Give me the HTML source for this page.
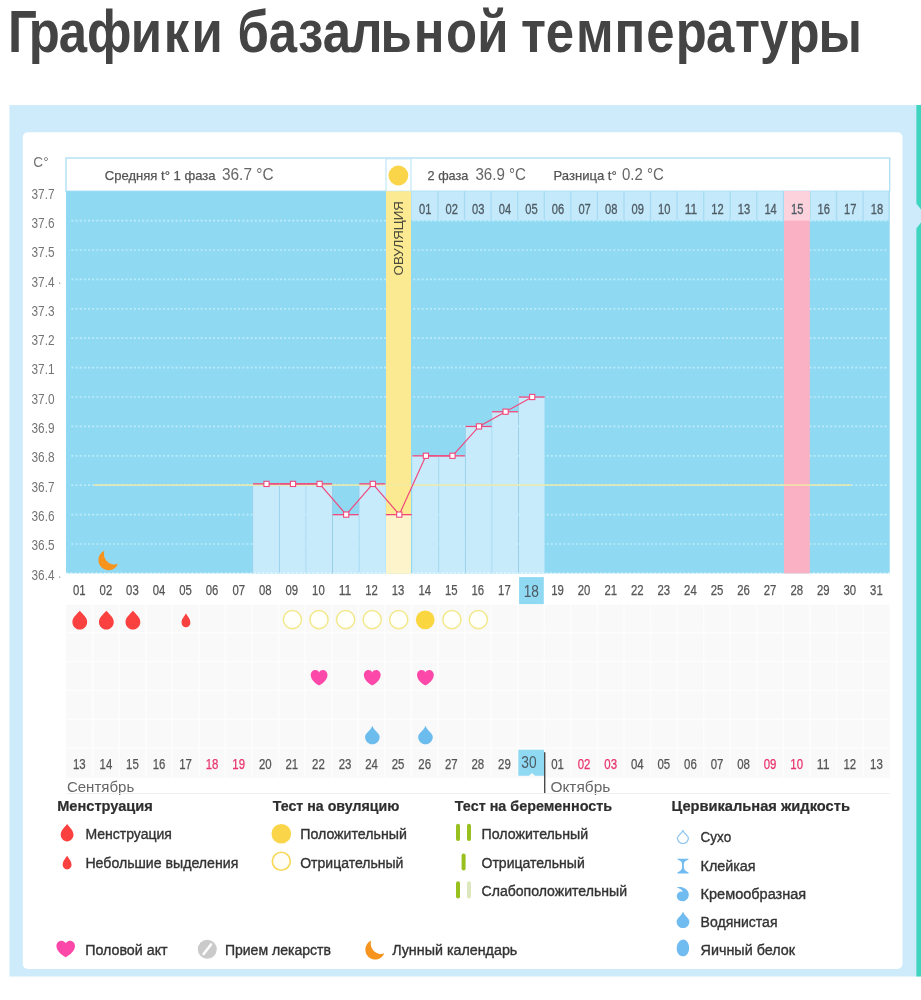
<!DOCTYPE html>
<html lang="ru">
<head>
<meta charset="utf-8">
<title>Графики базальной температуры</title>
<style>
html, body { margin: 0; padding: 0; background: #fff; }
body { width: 921px; height: 1000px; position: relative; overflow: hidden; font-family: 'Liberation Sans', 'DejaVu Sans', sans-serif; }
h1 { position: absolute; left: 0; top: 0; margin: 0; width: 921px; height: 100px; font-size: 59px; line-height: 64px; font-weight: bold; color: #444; }
h1 svg { display: block; }
svg { position: absolute; left: 0; top: 0; will-change: transform; }
svg text { font-family: 'Liberation Sans', 'DejaVu Sans', sans-serif; }
</style>
</head>
<body>
<h1><svg width="921" height="100" viewBox="0 0 921 100"><text transform="scale(0.862 1)" y="51.5" font-size="59" font-weight="bold" fill="#444" x="9.32 33.28 68.10 101.06 151.64 190.02 222.12 258.39 275.67 311.66 345.60 374.36 406.45 441.47 479.98 517.54 553.67 589.94 604.45 633.04 668.08 712.98 749.63 783.91 819.03 852.77 881.61 914.83 949.40">Графики базальной температуры</text></svg></h1>
<svg width="921" height="1000" viewBox="0 0 921 1000">
<rect x="9.4" y="105.1" width="911.6" height="871.4" fill="#cdebfa"/>
<path d="M916.4 105.1H921V209.5L916.4 203.5Z M916.4 228.5L921 222.5V976.5H916.4Z" fill="#3ed4be"/>
<rect x="22.8" y="132.3" width="879.7" height="836.7" rx="5" fill="#fff"/>
<rect x="66.0" y="158.0" width="823.7" height="33.2" fill="#fff" stroke="#b2e0f5" stroke-width="1.4"/>
<rect x="66.0" y="191.2" width="823.7" height="382.2" fill="#90d9f3"/>
<rect x="411.4" y="191.2" width="478.3" height="29.4" fill="#c3e9fa"/>
<rect x="437.4" y="191.2" width="1.2" height="29.4" fill="#a6daf3"/>
<rect x="463.9" y="191.2" width="1.2" height="29.4" fill="#a6daf3"/>
<rect x="490.5" y="191.2" width="1.2" height="29.4" fill="#a6daf3"/>
<rect x="517.1" y="191.2" width="1.2" height="29.4" fill="#a6daf3"/>
<rect x="543.7" y="191.2" width="1.2" height="29.4" fill="#a6daf3"/>
<rect x="570.2" y="191.2" width="1.2" height="29.4" fill="#a6daf3"/>
<rect x="596.8" y="191.2" width="1.2" height="29.4" fill="#a6daf3"/>
<rect x="623.4" y="191.2" width="1.2" height="29.4" fill="#a6daf3"/>
<rect x="649.9" y="191.2" width="1.2" height="29.4" fill="#a6daf3"/>
<rect x="676.5" y="191.2" width="1.2" height="29.4" fill="#a6daf3"/>
<rect x="703.1" y="191.2" width="1.2" height="29.4" fill="#a6daf3"/>
<rect x="729.6" y="191.2" width="1.2" height="29.4" fill="#a6daf3"/>
<rect x="756.2" y="191.2" width="1.2" height="29.4" fill="#a6daf3"/>
<rect x="782.8" y="191.2" width="1.2" height="29.4" fill="#a6daf3"/>
<rect x="809.4" y="191.2" width="1.2" height="29.4" fill="#a6daf3"/>
<rect x="835.9" y="191.2" width="1.2" height="29.4" fill="#a6daf3"/>
<rect x="862.5" y="191.2" width="1.2" height="29.4" fill="#a6daf3"/>
<rect x="888.5" y="191.2" width="1.2" height="29.4" fill="#a6daf3"/>
<rect x="252.8" y="485.2" width="26.6" height="88.2" fill="#c8ebfc"/>
<rect x="279.4" y="485.2" width="26.6" height="88.2" fill="#c8ebfc"/>
<rect x="305.9" y="485.2" width="26.6" height="88.2" fill="#c8ebfc"/>
<rect x="332.5" y="514.6" width="26.6" height="58.8" fill="#c8ebfc"/>
<rect x="359.1" y="485.2" width="26.6" height="88.2" fill="#c8ebfc"/>
<rect x="412.2" y="455.8" width="26.6" height="117.6" fill="#c8ebfc"/>
<rect x="438.8" y="455.8" width="26.6" height="117.6" fill="#c8ebfc"/>
<rect x="465.4" y="426.4" width="26.6" height="147.0" fill="#c8ebfc"/>
<rect x="491.9" y="411.7" width="26.6" height="161.7" fill="#c8ebfc"/>
<rect x="518.5" y="397.0" width="25.6" height="176.4" fill="#c8ebfc"/>
<rect x="252.3" y="485.2" width="1" height="88.2" fill="#98d0ec"/>
<rect x="278.9" y="485.2" width="1" height="88.2" fill="#98d0ec"/>
<rect x="305.4" y="485.2" width="1" height="88.2" fill="#98d0ec"/>
<rect x="332.0" y="485.2" width="1" height="88.2" fill="#98d0ec"/>
<rect x="358.6" y="485.2" width="1" height="88.2" fill="#98d0ec"/>
<rect x="438.3" y="455.8" width="1" height="117.6" fill="#98d0ec"/>
<rect x="464.9" y="426.4" width="1" height="147.0" fill="#98d0ec"/>
<rect x="491.4" y="411.7" width="1" height="161.7" fill="#98d0ec"/>
<rect x="518.0" y="397.0" width="1" height="176.4" fill="#98d0ec"/>
<g stroke="#bcedfb" stroke-width="1.7" stroke-dasharray="1.9 2.27">
<line x1="71.4" x2="887.2" y1="220.6" y2="220.6"/>
<line x1="71.4" x2="887.2" y1="250.0" y2="250.0"/>
<line x1="71.4" x2="887.2" y1="279.4" y2="279.4"/>
<line x1="71.4" x2="887.2" y1="308.8" y2="308.8"/>
<line x1="71.4" x2="887.2" y1="338.2" y2="338.2"/>
<line x1="71.4" x2="887.2" y1="367.6" y2="367.6"/>
<line x1="71.4" x2="887.2" y1="397.0" y2="397.0"/>
<line x1="71.4" x2="887.2" y1="426.4" y2="426.4"/>
<line x1="71.4" x2="887.2" y1="455.8" y2="455.8"/>
<line x1="71.4" x2="887.2" y1="485.2" y2="485.2"/>
<line x1="71.4" x2="887.2" y1="514.6" y2="514.6"/>
<line x1="71.4" x2="887.2" y1="544.0" y2="544.0"/>
</g>
<rect x="253.3" y="485.2" width="25.6" height="88.2" fill="#c8ebfc" opacity="0.75"/>
<rect x="279.9" y="485.2" width="25.6" height="88.2" fill="#c8ebfc" opacity="0.75"/>
<rect x="306.4" y="485.2" width="25.6" height="88.2" fill="#c8ebfc" opacity="0.75"/>
<rect x="333.0" y="514.6" width="25.6" height="58.8" fill="#c8ebfc" opacity="0.75"/>
<rect x="359.6" y="485.2" width="25.6" height="88.2" fill="#c8ebfc" opacity="0.75"/>
<rect x="412.7" y="455.8" width="25.6" height="117.6" fill="#c8ebfc" opacity="0.75"/>
<rect x="439.3" y="455.8" width="25.6" height="117.6" fill="#c8ebfc" opacity="0.75"/>
<rect x="465.9" y="426.4" width="25.6" height="147.0" fill="#c8ebfc" opacity="0.75"/>
<rect x="492.4" y="411.7" width="25.6" height="161.7" fill="#c8ebfc" opacity="0.75"/>
<rect x="519.0" y="397.0" width="25.6" height="176.4" fill="#c8ebfc" opacity="0.75"/>
<line x1="66.5" x2="889.7" y1="573.0" y2="573.0" stroke="#fff" stroke-width="1" stroke-dasharray="1.6 2.57" opacity="0.8"/>
<rect x="784.0" y="191.2" width="25.8" height="382.2" fill="#fab1c4"/>
<rect x="784.0" y="191.2" width="25.8" height="29.4" fill="#fcd3dc"/>
<rect x="386.0" y="158.8" width="25.0" height="32.4" fill="#fff" stroke="#c2e6f7" stroke-width="1.2"/>
<rect x="386.0" y="191.2" width="25.0" height="382.2" fill="#fcea93"/>
<rect x="386.0" y="514.6" width="25.0" height="58.8" fill="#fdf4cc"/>
<circle cx="398.4" cy="175.5" r="9.9" fill="#fad54a"/>
<text transform="translate(403.2 275.5) rotate(-90)" font-size="13.5" fill="#4a4a3a" textLength="74.5" lengthAdjust="spacingAndGlyphs">ОВУЛЯЦИЯ</text>
<rect x="93.7" y="484.4" width="757.3" height="1.4" fill="#f1eaa3"/>
<rect x="253.0" y="483.2" width="26.0" height="1.3" fill="#f0487c"/>
<rect x="279.6" y="483.2" width="26.0" height="1.3" fill="#f0487c"/>
<rect x="306.1" y="483.2" width="26.0" height="1.3" fill="#f0487c"/>
<rect x="332.7" y="514.0" width="26.0" height="1.3" fill="#f0487c"/>
<rect x="359.3" y="483.2" width="26.0" height="1.3" fill="#f0487c"/>
<rect x="385.8" y="514.0" width="26.0" height="1.3" fill="#f0487c"/>
<rect x="412.4" y="455.2" width="26.0" height="1.3" fill="#f0487c"/>
<rect x="439.0" y="455.2" width="26.0" height="1.3" fill="#f0487c"/>
<rect x="465.6" y="425.8" width="26.0" height="1.3" fill="#f0487c"/>
<rect x="492.1" y="411.1" width="26.0" height="1.3" fill="#f0487c"/>
<rect x="518.7" y="396.4" width="26.0" height="1.3" fill="#f0487c"/>
<polyline fill="none" stroke="#f0487c" stroke-width="1.2" points="266.5,483.9 293.0,483.9 319.6,483.9 346.2,514.6 372.8,483.9 399.3,514.6 425.9,455.8 452.5,455.8 479.0,426.4 505.6,411.7 532.2,397.0"/>
<rect x="263.9" y="481.3" width="5.2" height="5.2" fill="#fff" stroke="#f0487c" stroke-width="1.1"/>
<rect x="290.4" y="481.3" width="5.2" height="5.2" fill="#fff" stroke="#f0487c" stroke-width="1.1"/>
<rect x="317.0" y="481.3" width="5.2" height="5.2" fill="#fff" stroke="#f0487c" stroke-width="1.1"/>
<rect x="343.6" y="512.0" width="5.2" height="5.2" fill="#fff" stroke="#f0487c" stroke-width="1.1"/>
<rect x="370.2" y="481.3" width="5.2" height="5.2" fill="#fff" stroke="#f0487c" stroke-width="1.1"/>
<rect x="396.7" y="512.0" width="5.2" height="5.2" fill="#fff" stroke="#f0487c" stroke-width="1.1"/>
<rect x="423.3" y="453.2" width="5.2" height="5.2" fill="#fff" stroke="#f0487c" stroke-width="1.1"/>
<rect x="449.9" y="453.2" width="5.2" height="5.2" fill="#fff" stroke="#f0487c" stroke-width="1.1"/>
<rect x="476.4" y="423.8" width="5.2" height="5.2" fill="#fff" stroke="#f0487c" stroke-width="1.1"/>
<rect x="503.0" y="409.1" width="5.2" height="5.2" fill="#fff" stroke="#f0487c" stroke-width="1.1"/>
<rect x="529.6" y="394.4" width="5.2" height="5.2" fill="#fff" stroke="#f0487c" stroke-width="1.1"/>
<path transform="translate(97.8 550.4) scale(1.010)" fill="#f7941d" d="M6.5 0.3C4.8 6 8.2 12.2 14 13.6c2 .5 4 .3 5.8-.4C18.6 17 15 19.6 10.8 19.6 5.2 19.6.6 15.2.6 9.8.6 5.6 3 1.9 6.5.3z"/>
<text x="33.3" y="167.3" font-size="15.5" fill="#747474" text-anchor="start" font-weight="normal" textLength="15.3" lengthAdjust="spacingAndGlyphs">C°</text>
<text x="31.5" y="198.7" font-size="14" fill="#747474" text-anchor="start" font-weight="normal" textLength="23.0" lengthAdjust="spacingAndGlyphs">37.7</text>
<text x="31.5" y="228.0" font-size="14" fill="#747474" text-anchor="start" font-weight="normal" textLength="23.0" lengthAdjust="spacingAndGlyphs">37.6</text>
<text x="31.5" y="257.3" font-size="14" fill="#747474" text-anchor="start" font-weight="normal" textLength="23.0" lengthAdjust="spacingAndGlyphs">37.5</text>
<text x="31.5" y="286.6" font-size="14" fill="#747474" text-anchor="start" font-weight="normal" textLength="23.0" lengthAdjust="spacingAndGlyphs">37.4</text>
<text x="31.5" y="315.9" font-size="14" fill="#747474" text-anchor="start" font-weight="normal" textLength="23.0" lengthAdjust="spacingAndGlyphs">37.3</text>
<text x="31.5" y="345.1" font-size="14" fill="#747474" text-anchor="start" font-weight="normal" textLength="23.0" lengthAdjust="spacingAndGlyphs">37.2</text>
<text x="31.5" y="374.4" font-size="14" fill="#747474" text-anchor="start" font-weight="normal" textLength="23.0" lengthAdjust="spacingAndGlyphs">37.1</text>
<text x="31.5" y="403.7" font-size="14" fill="#747474" text-anchor="start" font-weight="normal" textLength="23.0" lengthAdjust="spacingAndGlyphs">37.0</text>
<text x="31.5" y="433.0" font-size="14" fill="#747474" text-anchor="start" font-weight="normal" textLength="23.0" lengthAdjust="spacingAndGlyphs">36.9</text>
<text x="31.5" y="462.3" font-size="14" fill="#747474" text-anchor="start" font-weight="normal" textLength="23.0" lengthAdjust="spacingAndGlyphs">36.8</text>
<text x="31.5" y="491.6" font-size="14" fill="#747474" text-anchor="start" font-weight="normal" textLength="23.0" lengthAdjust="spacingAndGlyphs">36.7</text>
<text x="31.5" y="520.9" font-size="14" fill="#747474" text-anchor="start" font-weight="normal" textLength="23.0" lengthAdjust="spacingAndGlyphs">36.6</text>
<text x="31.5" y="550.2" font-size="14" fill="#747474" text-anchor="start" font-weight="normal" textLength="23.0" lengthAdjust="spacingAndGlyphs">36.5</text>
<text x="31.5" y="579.5" font-size="14" fill="#747474" text-anchor="start" font-weight="normal" textLength="23.0" lengthAdjust="spacingAndGlyphs">36.4</text>
<rect x="59" y="282.4" width="1.2" height="1.4" fill="#999"/>
<rect x="59" y="576.4" width="1.2" height="1.4" fill="#999"/>
<text x="104.8" y="180.0" font-size="13" fill="#555" text-anchor="start" font-weight="normal" textLength="110.7" lengthAdjust="spacingAndGlyphs" stroke="#555" stroke-width="0.25">Средняя t° 1 фаза</text>
<text x="222.0" y="180.0" font-size="16" fill="#666" text-anchor="start" font-weight="normal" textLength="51.5" lengthAdjust="spacingAndGlyphs">36.7 °C</text>
<text x="427.6" y="180.0" font-size="13" fill="#555" text-anchor="start" font-weight="normal" textLength="40.8" lengthAdjust="spacingAndGlyphs" stroke="#555" stroke-width="0.25">2 фаза</text>
<text x="475.4" y="180.0" font-size="16" fill="#666" text-anchor="start" font-weight="normal" textLength="50.6" lengthAdjust="spacingAndGlyphs">36.9 °C</text>
<text x="553.5" y="180.0" font-size="13" fill="#555" text-anchor="start" font-weight="normal" textLength="63.2" lengthAdjust="spacingAndGlyphs" stroke="#555" stroke-width="0.25">Разница t°</text>
<text x="622.0" y="180.0" font-size="16" fill="#666" text-anchor="start" font-weight="normal" textLength="41.9" lengthAdjust="spacingAndGlyphs">0.2 °C</text>
<text x="425.2" y="213.8" font-size="14" fill="#4f5b64" text-anchor="middle" font-weight="normal" textLength="12.4" lengthAdjust="spacingAndGlyphs" stroke="#4f5b64" stroke-width="0.3">01</text>
<text x="451.8" y="213.8" font-size="14" fill="#4f5b64" text-anchor="middle" font-weight="normal" textLength="12.4" lengthAdjust="spacingAndGlyphs" stroke="#4f5b64" stroke-width="0.3">02</text>
<text x="478.3" y="213.8" font-size="14" fill="#4f5b64" text-anchor="middle" font-weight="normal" textLength="12.4" lengthAdjust="spacingAndGlyphs" stroke="#4f5b64" stroke-width="0.3">03</text>
<text x="504.9" y="213.8" font-size="14" fill="#4f5b64" text-anchor="middle" font-weight="normal" textLength="12.4" lengthAdjust="spacingAndGlyphs" stroke="#4f5b64" stroke-width="0.3">04</text>
<text x="531.5" y="213.8" font-size="14" fill="#4f5b64" text-anchor="middle" font-weight="normal" textLength="12.4" lengthAdjust="spacingAndGlyphs" stroke="#4f5b64" stroke-width="0.3">05</text>
<text x="558.0" y="213.8" font-size="14" fill="#4f5b64" text-anchor="middle" font-weight="normal" textLength="12.4" lengthAdjust="spacingAndGlyphs" stroke="#4f5b64" stroke-width="0.3">06</text>
<text x="584.6" y="213.8" font-size="14" fill="#4f5b64" text-anchor="middle" font-weight="normal" textLength="12.4" lengthAdjust="spacingAndGlyphs" stroke="#4f5b64" stroke-width="0.3">07</text>
<text x="611.2" y="213.8" font-size="14" fill="#4f5b64" text-anchor="middle" font-weight="normal" textLength="12.4" lengthAdjust="spacingAndGlyphs" stroke="#4f5b64" stroke-width="0.3">08</text>
<text x="637.8" y="213.8" font-size="14" fill="#4f5b64" text-anchor="middle" font-weight="normal" textLength="12.4" lengthAdjust="spacingAndGlyphs" stroke="#4f5b64" stroke-width="0.3">09</text>
<text x="664.3" y="213.8" font-size="14" fill="#4f5b64" text-anchor="middle" font-weight="normal" textLength="12.4" lengthAdjust="spacingAndGlyphs" stroke="#4f5b64" stroke-width="0.3">10</text>
<text x="690.9" y="213.8" font-size="14" fill="#4f5b64" text-anchor="middle" font-weight="normal" textLength="12.4" lengthAdjust="spacingAndGlyphs" stroke="#4f5b64" stroke-width="0.3">11</text>
<text x="717.5" y="213.8" font-size="14" fill="#4f5b64" text-anchor="middle" font-weight="normal" textLength="12.4" lengthAdjust="spacingAndGlyphs" stroke="#4f5b64" stroke-width="0.3">12</text>
<text x="744.0" y="213.8" font-size="14" fill="#4f5b64" text-anchor="middle" font-weight="normal" textLength="12.4" lengthAdjust="spacingAndGlyphs" stroke="#4f5b64" stroke-width="0.3">13</text>
<text x="770.6" y="213.8" font-size="14" fill="#4f5b64" text-anchor="middle" font-weight="normal" textLength="12.4" lengthAdjust="spacingAndGlyphs" stroke="#4f5b64" stroke-width="0.3">14</text>
<text x="797.2" y="213.8" font-size="14" fill="#4f5b64" text-anchor="middle" font-weight="normal" textLength="12.4" lengthAdjust="spacingAndGlyphs" stroke="#4f5b64" stroke-width="0.3">15</text>
<text x="823.7" y="213.8" font-size="14" fill="#4f5b64" text-anchor="middle" font-weight="normal" textLength="12.4" lengthAdjust="spacingAndGlyphs" stroke="#4f5b64" stroke-width="0.3">16</text>
<text x="850.3" y="213.8" font-size="14" fill="#4f5b64" text-anchor="middle" font-weight="normal" textLength="12.4" lengthAdjust="spacingAndGlyphs" stroke="#4f5b64" stroke-width="0.3">17</text>
<text x="876.9" y="213.8" font-size="14" fill="#4f5b64" text-anchor="middle" font-weight="normal" textLength="12.4" lengthAdjust="spacingAndGlyphs" stroke="#4f5b64" stroke-width="0.3">18</text>
<rect x="66.0" y="604.6" width="823.7" height="173.0" fill="#f9f9f9"/>
<g fill="#fff" opacity="0.75">
<rect x="66.0" y="631.9" width="823.7" height="1.4"/>
<rect x="66.0" y="660.8" width="823.7" height="1.4"/>
<rect x="66.0" y="689.8" width="823.7" height="1.4"/>
<rect x="66.0" y="718.7" width="823.7" height="1.4"/>
<rect x="66.0" y="747.6" width="823.7" height="1.4"/>
<rect x="91.9" y="604.6" width="1.4" height="173.0"/>
<rect x="118.4" y="604.6" width="1.4" height="173.0"/>
<rect x="145.0" y="604.6" width="1.4" height="173.0"/>
<rect x="171.6" y="604.6" width="1.4" height="173.0"/>
<rect x="198.2" y="604.6" width="1.4" height="173.0"/>
<rect x="224.7" y="604.6" width="1.4" height="173.0"/>
<rect x="251.3" y="604.6" width="1.4" height="173.0"/>
<rect x="277.9" y="604.6" width="1.4" height="173.0"/>
<rect x="304.4" y="604.6" width="1.4" height="173.0"/>
<rect x="331.0" y="604.6" width="1.4" height="173.0"/>
<rect x="357.6" y="604.6" width="1.4" height="173.0"/>
<rect x="384.1" y="604.6" width="1.4" height="173.0"/>
<rect x="410.7" y="604.6" width="1.4" height="173.0"/>
<rect x="437.3" y="604.6" width="1.4" height="173.0"/>
<rect x="463.9" y="604.6" width="1.4" height="173.0"/>
<rect x="490.4" y="604.6" width="1.4" height="173.0"/>
<rect x="517.0" y="604.6" width="1.4" height="173.0"/>
<rect x="543.6" y="604.6" width="1.4" height="173.0"/>
<rect x="570.1" y="604.6" width="1.4" height="173.0"/>
<rect x="596.7" y="604.6" width="1.4" height="173.0"/>
<rect x="623.3" y="604.6" width="1.4" height="173.0"/>
<rect x="649.8" y="604.6" width="1.4" height="173.0"/>
<rect x="676.4" y="604.6" width="1.4" height="173.0"/>
<rect x="703.0" y="604.6" width="1.4" height="173.0"/>
<rect x="729.5" y="604.6" width="1.4" height="173.0"/>
<rect x="756.1" y="604.6" width="1.4" height="173.0"/>
<rect x="782.7" y="604.6" width="1.4" height="173.0"/>
<rect x="809.3" y="604.6" width="1.4" height="173.0"/>
<rect x="835.8" y="604.6" width="1.4" height="173.0"/>
<rect x="862.4" y="604.6" width="1.4" height="173.0"/>
</g>
<rect x="519.1" y="577.1" width="24.7" height="27" fill="#90d9f3"/>
<path d="M518.3 749.8H544V775.7H535l-3 -2.6 -3 2.6H518.3z" fill="#90d9f3"/>
<rect x="544" y="752.2" width="1.4" height="41.1" fill="#4a4a4a"/>
<text x="79.3" y="595.2" font-size="14.2" fill="#555" text-anchor="middle" font-weight="normal" textLength="12.6" lengthAdjust="spacingAndGlyphs" stroke="#555" stroke-width="0.25">01</text>
<text x="105.9" y="595.2" font-size="14.2" fill="#555" text-anchor="middle" font-weight="normal" textLength="12.6" lengthAdjust="spacingAndGlyphs" stroke="#555" stroke-width="0.25">02</text>
<text x="132.4" y="595.2" font-size="14.2" fill="#555" text-anchor="middle" font-weight="normal" textLength="12.6" lengthAdjust="spacingAndGlyphs" stroke="#555" stroke-width="0.25">03</text>
<text x="159.0" y="595.2" font-size="14.2" fill="#555" text-anchor="middle" font-weight="normal" textLength="12.6" lengthAdjust="spacingAndGlyphs" stroke="#555" stroke-width="0.25">04</text>
<text x="185.6" y="595.2" font-size="14.2" fill="#555" text-anchor="middle" font-weight="normal" textLength="12.6" lengthAdjust="spacingAndGlyphs" stroke="#555" stroke-width="0.25">05</text>
<text x="212.1" y="595.2" font-size="14.2" fill="#555" text-anchor="middle" font-weight="normal" textLength="12.6" lengthAdjust="spacingAndGlyphs" stroke="#555" stroke-width="0.25">06</text>
<text x="238.7" y="595.2" font-size="14.2" fill="#555" text-anchor="middle" font-weight="normal" textLength="12.6" lengthAdjust="spacingAndGlyphs" stroke="#555" stroke-width="0.25">07</text>
<text x="265.3" y="595.2" font-size="14.2" fill="#555" text-anchor="middle" font-weight="normal" textLength="12.6" lengthAdjust="spacingAndGlyphs" stroke="#555" stroke-width="0.25">08</text>
<text x="291.8" y="595.2" font-size="14.2" fill="#555" text-anchor="middle" font-weight="normal" textLength="12.6" lengthAdjust="spacingAndGlyphs" stroke="#555" stroke-width="0.25">09</text>
<text x="318.4" y="595.2" font-size="14.2" fill="#555" text-anchor="middle" font-weight="normal" textLength="12.6" lengthAdjust="spacingAndGlyphs" stroke="#555" stroke-width="0.25">10</text>
<text x="345.0" y="595.2" font-size="14.2" fill="#555" text-anchor="middle" font-weight="normal" textLength="12.6" lengthAdjust="spacingAndGlyphs" stroke="#555" stroke-width="0.25">11</text>
<text x="371.6" y="595.2" font-size="14.2" fill="#555" text-anchor="middle" font-weight="normal" textLength="12.6" lengthAdjust="spacingAndGlyphs" stroke="#555" stroke-width="0.25">12</text>
<text x="398.1" y="595.2" font-size="14.2" fill="#555" text-anchor="middle" font-weight="normal" textLength="12.6" lengthAdjust="spacingAndGlyphs" stroke="#555" stroke-width="0.25">13</text>
<text x="424.7" y="595.2" font-size="14.2" fill="#555" text-anchor="middle" font-weight="normal" textLength="12.6" lengthAdjust="spacingAndGlyphs" stroke="#555" stroke-width="0.25">14</text>
<text x="451.3" y="595.2" font-size="14.2" fill="#555" text-anchor="middle" font-weight="normal" textLength="12.6" lengthAdjust="spacingAndGlyphs" stroke="#555" stroke-width="0.25">15</text>
<text x="477.8" y="595.2" font-size="14.2" fill="#555" text-anchor="middle" font-weight="normal" textLength="12.6" lengthAdjust="spacingAndGlyphs" stroke="#555" stroke-width="0.25">16</text>
<text x="504.4" y="595.2" font-size="14.2" fill="#555" text-anchor="middle" font-weight="normal" textLength="12.6" lengthAdjust="spacingAndGlyphs" stroke="#555" stroke-width="0.25">17</text>
<text x="531.3" y="596.7" font-size="17" fill="#4d5961" text-anchor="middle" font-weight="normal" textLength="15.2" lengthAdjust="spacingAndGlyphs">18</text>
<text x="557.5" y="595.2" font-size="14.2" fill="#555" text-anchor="middle" font-weight="normal" textLength="12.6" lengthAdjust="spacingAndGlyphs" stroke="#555" stroke-width="0.25">19</text>
<text x="584.1" y="595.2" font-size="14.2" fill="#555" text-anchor="middle" font-weight="normal" textLength="12.6" lengthAdjust="spacingAndGlyphs" stroke="#555" stroke-width="0.25">20</text>
<text x="610.7" y="595.2" font-size="14.2" fill="#555" text-anchor="middle" font-weight="normal" textLength="12.6" lengthAdjust="spacingAndGlyphs" stroke="#555" stroke-width="0.25">21</text>
<text x="637.3" y="595.2" font-size="14.2" fill="#555" text-anchor="middle" font-weight="normal" textLength="12.6" lengthAdjust="spacingAndGlyphs" stroke="#555" stroke-width="0.25">22</text>
<text x="663.8" y="595.2" font-size="14.2" fill="#555" text-anchor="middle" font-weight="normal" textLength="12.6" lengthAdjust="spacingAndGlyphs" stroke="#555" stroke-width="0.25">23</text>
<text x="690.4" y="595.2" font-size="14.2" fill="#555" text-anchor="middle" font-weight="normal" textLength="12.6" lengthAdjust="spacingAndGlyphs" stroke="#555" stroke-width="0.25">24</text>
<text x="717.0" y="595.2" font-size="14.2" fill="#555" text-anchor="middle" font-weight="normal" textLength="12.6" lengthAdjust="spacingAndGlyphs" stroke="#555" stroke-width="0.25">25</text>
<text x="743.5" y="595.2" font-size="14.2" fill="#555" text-anchor="middle" font-weight="normal" textLength="12.6" lengthAdjust="spacingAndGlyphs" stroke="#555" stroke-width="0.25">26</text>
<text x="770.1" y="595.2" font-size="14.2" fill="#555" text-anchor="middle" font-weight="normal" textLength="12.6" lengthAdjust="spacingAndGlyphs" stroke="#555" stroke-width="0.25">27</text>
<text x="796.7" y="595.2" font-size="14.2" fill="#555" text-anchor="middle" font-weight="normal" textLength="12.6" lengthAdjust="spacingAndGlyphs" stroke="#555" stroke-width="0.25">28</text>
<text x="823.2" y="595.2" font-size="14.2" fill="#555" text-anchor="middle" font-weight="normal" textLength="12.6" lengthAdjust="spacingAndGlyphs" stroke="#555" stroke-width="0.25">29</text>
<text x="849.8" y="595.2" font-size="14.2" fill="#555" text-anchor="middle" font-weight="normal" textLength="12.6" lengthAdjust="spacingAndGlyphs" stroke="#555" stroke-width="0.25">30</text>
<text x="876.4" y="595.2" font-size="14.2" fill="#555" text-anchor="middle" font-weight="normal" textLength="12.6" lengthAdjust="spacingAndGlyphs" stroke="#555" stroke-width="0.25">31</text>
<text x="79.3" y="769.3" font-size="14.2" fill="#555" text-anchor="middle" font-weight="normal" textLength="12.7" lengthAdjust="spacingAndGlyphs" stroke="#555" stroke-width="0.25">13</text>
<text x="105.9" y="769.3" font-size="14.2" fill="#555" text-anchor="middle" font-weight="normal" textLength="12.7" lengthAdjust="spacingAndGlyphs" stroke="#555" stroke-width="0.25">14</text>
<text x="132.4" y="769.3" font-size="14.2" fill="#555" text-anchor="middle" font-weight="normal" textLength="12.7" lengthAdjust="spacingAndGlyphs" stroke="#555" stroke-width="0.25">15</text>
<text x="159.0" y="769.3" font-size="14.2" fill="#555" text-anchor="middle" font-weight="normal" textLength="12.7" lengthAdjust="spacingAndGlyphs" stroke="#555" stroke-width="0.25">16</text>
<text x="185.6" y="769.3" font-size="14.2" fill="#555" text-anchor="middle" font-weight="normal" textLength="12.7" lengthAdjust="spacingAndGlyphs" stroke="#555" stroke-width="0.25">17</text>
<text x="212.1" y="769.3" font-size="14.2" fill="#e8336d" text-anchor="middle" font-weight="normal" textLength="12.7" lengthAdjust="spacingAndGlyphs" stroke="#e8336d" stroke-width="0.25">18</text>
<text x="238.7" y="769.3" font-size="14.2" fill="#e8336d" text-anchor="middle" font-weight="normal" textLength="12.7" lengthAdjust="spacingAndGlyphs" stroke="#e8336d" stroke-width="0.25">19</text>
<text x="265.3" y="769.3" font-size="14.2" fill="#555" text-anchor="middle" font-weight="normal" textLength="12.7" lengthAdjust="spacingAndGlyphs" stroke="#555" stroke-width="0.25">20</text>
<text x="291.8" y="769.3" font-size="14.2" fill="#555" text-anchor="middle" font-weight="normal" textLength="12.7" lengthAdjust="spacingAndGlyphs" stroke="#555" stroke-width="0.25">21</text>
<text x="318.4" y="769.3" font-size="14.2" fill="#555" text-anchor="middle" font-weight="normal" textLength="12.7" lengthAdjust="spacingAndGlyphs" stroke="#555" stroke-width="0.25">22</text>
<text x="345.0" y="769.3" font-size="14.2" fill="#555" text-anchor="middle" font-weight="normal" textLength="12.7" lengthAdjust="spacingAndGlyphs" stroke="#555" stroke-width="0.25">23</text>
<text x="371.6" y="769.3" font-size="14.2" fill="#555" text-anchor="middle" font-weight="normal" textLength="12.7" lengthAdjust="spacingAndGlyphs" stroke="#555" stroke-width="0.25">24</text>
<text x="398.1" y="769.3" font-size="14.2" fill="#555" text-anchor="middle" font-weight="normal" textLength="12.7" lengthAdjust="spacingAndGlyphs" stroke="#555" stroke-width="0.25">25</text>
<text x="424.7" y="769.3" font-size="14.2" fill="#555" text-anchor="middle" font-weight="normal" textLength="12.7" lengthAdjust="spacingAndGlyphs" stroke="#555" stroke-width="0.25">26</text>
<text x="451.3" y="769.3" font-size="14.2" fill="#555" text-anchor="middle" font-weight="normal" textLength="12.7" lengthAdjust="spacingAndGlyphs" stroke="#555" stroke-width="0.25">27</text>
<text x="477.8" y="769.3" font-size="14.2" fill="#555" text-anchor="middle" font-weight="normal" textLength="12.7" lengthAdjust="spacingAndGlyphs" stroke="#555" stroke-width="0.25">28</text>
<text x="504.4" y="769.3" font-size="14.2" fill="#555" text-anchor="middle" font-weight="normal" textLength="12.7" lengthAdjust="spacingAndGlyphs" stroke="#555" stroke-width="0.25">29</text>
<text x="528.9" y="768.0" font-size="16.6" fill="#4d5961" text-anchor="middle" font-weight="normal" textLength="15.3" lengthAdjust="spacingAndGlyphs">30</text>
<text x="557.5" y="769.3" font-size="14.2" fill="#555" text-anchor="middle" font-weight="normal" textLength="12.7" lengthAdjust="spacingAndGlyphs" stroke="#555" stroke-width="0.25">01</text>
<text x="584.1" y="769.3" font-size="14.2" fill="#e8336d" text-anchor="middle" font-weight="normal" textLength="12.7" lengthAdjust="spacingAndGlyphs" stroke="#e8336d" stroke-width="0.25">02</text>
<text x="610.7" y="769.3" font-size="14.2" fill="#e8336d" text-anchor="middle" font-weight="normal" textLength="12.7" lengthAdjust="spacingAndGlyphs" stroke="#e8336d" stroke-width="0.25">03</text>
<text x="637.3" y="769.3" font-size="14.2" fill="#555" text-anchor="middle" font-weight="normal" textLength="12.7" lengthAdjust="spacingAndGlyphs" stroke="#555" stroke-width="0.25">04</text>
<text x="663.8" y="769.3" font-size="14.2" fill="#555" text-anchor="middle" font-weight="normal" textLength="12.7" lengthAdjust="spacingAndGlyphs" stroke="#555" stroke-width="0.25">05</text>
<text x="690.4" y="769.3" font-size="14.2" fill="#555" text-anchor="middle" font-weight="normal" textLength="12.7" lengthAdjust="spacingAndGlyphs" stroke="#555" stroke-width="0.25">06</text>
<text x="717.0" y="769.3" font-size="14.2" fill="#555" text-anchor="middle" font-weight="normal" textLength="12.7" lengthAdjust="spacingAndGlyphs" stroke="#555" stroke-width="0.25">07</text>
<text x="743.5" y="769.3" font-size="14.2" fill="#555" text-anchor="middle" font-weight="normal" textLength="12.7" lengthAdjust="spacingAndGlyphs" stroke="#555" stroke-width="0.25">08</text>
<text x="770.1" y="769.3" font-size="14.2" fill="#e8336d" text-anchor="middle" font-weight="normal" textLength="12.7" lengthAdjust="spacingAndGlyphs" stroke="#e8336d" stroke-width="0.25">09</text>
<text x="796.7" y="769.3" font-size="14.2" fill="#e8336d" text-anchor="middle" font-weight="normal" textLength="12.7" lengthAdjust="spacingAndGlyphs" stroke="#e8336d" stroke-width="0.25">10</text>
<text x="823.2" y="769.3" font-size="14.2" fill="#555" text-anchor="middle" font-weight="normal" textLength="12.7" lengthAdjust="spacingAndGlyphs" stroke="#555" stroke-width="0.25">11</text>
<text x="849.8" y="769.3" font-size="14.2" fill="#555" text-anchor="middle" font-weight="normal" textLength="12.7" lengthAdjust="spacingAndGlyphs" stroke="#555" stroke-width="0.25">12</text>
<text x="876.4" y="769.3" font-size="14.2" fill="#555" text-anchor="middle" font-weight="normal" textLength="12.7" lengthAdjust="spacingAndGlyphs" stroke="#555" stroke-width="0.25">13</text>
<text x="66.9" y="791.7" font-size="14" fill="#666" text-anchor="start" font-weight="normal" textLength="67.4" lengthAdjust="spacingAndGlyphs">Сентябрь</text>
<text x="550.4" y="791.7" font-size="14" fill="#666" text-anchor="start" font-weight="normal" textLength="59.9" lengthAdjust="spacingAndGlyphs">Октябрь</text>
<rect x="66.0" y="793" width="823.7" height="1" fill="#eee"/>
<path d="M79.78 610.80C82.74 614.40 87.19 617.33 87.19 622.05C87.19 626.14 83.87 629.60 79.78 629.60C75.70 629.60 72.38 626.14 72.38 622.05C72.38 617.33 76.83 614.40 79.78 610.80z" fill="#fb4040"/>
<path d="M106.36 610.80C109.31 614.40 113.76 617.33 113.76 622.05C113.76 626.14 110.44 629.60 106.36 629.60C102.27 629.60 98.95 626.14 98.95 622.05C98.95 617.33 103.40 614.40 106.36 610.80z" fill="#fb4040"/>
<path d="M132.93 610.80C135.89 614.40 140.33 617.33 140.33 622.05C140.33 626.14 137.01 629.60 132.93 629.60C128.84 629.60 125.53 626.14 125.53 622.05C125.53 617.33 129.97 614.40 132.93 610.80z" fill="#fb4040"/>
<path d="M185.97 613.40C187.72 616.38 190.37 618.80 190.37 622.71C190.37 625.14 188.40 627.20 185.97 627.20C183.53 627.20 181.56 625.14 181.56 622.71C181.56 618.80 184.21 616.38 185.97 613.40z" fill="#fb4040"/>
<circle cx="292.4" cy="619.6" r="9.1" fill="#fffffb" stroke="#f3e88c" stroke-width="1.5"/>
<circle cx="319.0" cy="619.6" r="9.1" fill="#fffffb" stroke="#f3e88c" stroke-width="1.5"/>
<circle cx="345.6" cy="619.6" r="9.1" fill="#fffffb" stroke="#f3e88c" stroke-width="1.5"/>
<circle cx="372.2" cy="619.6" r="9.1" fill="#fffffb" stroke="#f3e88c" stroke-width="1.5"/>
<circle cx="398.7" cy="619.6" r="9.1" fill="#fffffb" stroke="#f3e88c" stroke-width="1.5"/>
<circle cx="425.2" cy="619.8" r="9.4" fill="#fad640"/>
<circle cx="451.9" cy="619.6" r="9.1" fill="#fffffb" stroke="#f3e88c" stroke-width="1.5"/>
<circle cx="478.4" cy="619.6" r="9.1" fill="#fffffb" stroke="#f3e88c" stroke-width="1.5"/>
<path transform="translate(310.71 670.10) scale(0.840 0.886)" fill="#fc49a9" d="M10 17.5C8.6 16.600 0 12.200 0 5.600 0 2.400 2.400 0 5.400 0 7.400 0 9.100 1 10 2.600 10.900 1 12.600 0 14.600 0 17.600 0 20 2.400 20 5.600c0 6.600-8.600 11-10 11.900z"/>
<path transform="translate(363.86 670.10) scale(0.840 0.886)" fill="#fc49a9" d="M10 17.5C8.6 16.600 0 12.200 0 5.600 0 2.400 2.400 0 5.400 0 7.400 0 9.100 1 10 2.600 10.900 1 12.600 0 14.600 0 17.600 0 20 2.400 20 5.600c0 6.600-8.600 11-10 11.900z"/>
<path transform="translate(417.00 670.10) scale(0.840 0.886)" fill="#fc49a9" d="M10 17.5C8.6 16.600 0 12.200 0 5.600 0 2.400 2.400 0 5.400 0 7.400 0 9.100 1 10 2.600 10.900 1 12.600 0 14.600 0 17.600 0 20 2.400 20 5.600c0 6.600-8.600 11-10 11.900z"/>
<path d="M372.36 725.80C373.96 730.91 379.66 732.90 379.66 736.90C379.66 740.93 376.39 744.20 372.36 744.20C368.32 744.20 365.06 740.93 365.06 736.90C365.06 732.90 370.75 730.91 372.36 725.80z" fill="#6dbcee"/>
<path d="M425.50 725.80C427.10 730.91 432.80 732.90 432.80 736.90C432.80 740.93 429.53 744.20 425.50 744.20C421.46 744.20 418.19 740.93 418.19 736.90C418.19 732.90 423.89 730.91 425.50 725.80z" fill="#6dbcee"/>
<text x="57.2" y="811.3" font-size="15" fill="#2e2e2e" text-anchor="start" font-weight="bold" textLength="95.6" lengthAdjust="spacingAndGlyphs" stroke="#2e2e2e" stroke-width="0.2">Менструация</text>
<text x="272.8" y="811.3" font-size="15" fill="#2e2e2e" text-anchor="start" font-weight="bold" textLength="126.5" lengthAdjust="spacingAndGlyphs" stroke="#2e2e2e" stroke-width="0.2">Тест на овуляцию</text>
<text x="454.8" y="811.3" font-size="15" fill="#2e2e2e" text-anchor="start" font-weight="bold" textLength="157.3" lengthAdjust="spacingAndGlyphs" stroke="#2e2e2e" stroke-width="0.2">Тест на беременность</text>
<text x="671.5" y="811.3" font-size="15" fill="#2e2e2e" text-anchor="start" font-weight="bold" textLength="178.4" lengthAdjust="spacingAndGlyphs" stroke="#2e2e2e" stroke-width="0.2">Цервикальная жидкость</text>
<text x="85.4" y="838.7" font-size="14" fill="#333" text-anchor="start" font-weight="normal" textLength="86.5" lengthAdjust="spacingAndGlyphs" stroke="#333" stroke-width="0.35">Менструация</text>
<text x="85.4" y="868.1" font-size="14" fill="#333" text-anchor="start" font-weight="normal" textLength="152.9" lengthAdjust="spacingAndGlyphs" stroke="#333" stroke-width="0.35">Небольшие выделения</text>
<path d="M67.10 824.00C69.66 827.48 73.50 830.31 73.50 834.87C73.50 838.41 70.63 841.40 67.10 841.40C63.57 841.40 60.70 838.41 60.70 834.87C60.70 830.31 64.54 827.48 67.10 824.00z" fill="#fb4040"/>
<path d="M67.10 855.80C68.88 858.70 71.55 861.06 71.55 864.86C71.55 867.32 69.56 869.40 67.10 869.40C64.64 869.40 62.65 867.32 62.65 864.86C62.65 861.06 65.32 858.70 67.10 855.80z" fill="#fb4040"/>
<text x="300.2" y="838.6" font-size="14" fill="#333" text-anchor="start" font-weight="normal" textLength="106.7" lengthAdjust="spacingAndGlyphs" stroke="#333" stroke-width="0.35">Положительный</text>
<text x="300.2" y="867.5" font-size="14" fill="#333" text-anchor="start" font-weight="normal" textLength="103.2" lengthAdjust="spacingAndGlyphs" stroke="#333" stroke-width="0.35">Отрицательный</text>
<circle cx="281.3" cy="833.7" r="9.8" fill="#fad54a"/>
<circle cx="281.3" cy="861.3" r="9" fill="#fffdf5" stroke="#f7d857" stroke-width="1.6"/>
<text x="481.5" y="838.6" font-size="14" fill="#333" text-anchor="start" font-weight="normal" textLength="106.7" lengthAdjust="spacingAndGlyphs" stroke="#333" stroke-width="0.35">Положительный</text>
<text x="481.5" y="867.5" font-size="14" fill="#333" text-anchor="start" font-weight="normal" textLength="103.3" lengthAdjust="spacingAndGlyphs" stroke="#333" stroke-width="0.35">Отрицательный</text>
<text x="481.5" y="896.3" font-size="14" fill="#333" text-anchor="start" font-weight="normal" textLength="145.5" lengthAdjust="spacingAndGlyphs" stroke="#333" stroke-width="0.35">Слабоположительный</text>
<rect x="456" y="823.8" width="4" height="17.2" rx="2" fill="#98c01e"/>
<rect x="467" y="823.8" width="4" height="17.2" rx="2" fill="#98c01e"/>
<rect x="461.6" y="853.4" width="4" height="17.2" rx="2" fill="#98c01e"/>
<rect x="456" y="881.2" width="4" height="17.2" rx="2" fill="#98c01e"/>
<rect x="467" y="881.2" width="4" height="17.2" rx="2" fill="#dde7bd"/>
<text x="700.6" y="841.9" font-size="14" fill="#333" text-anchor="start" font-weight="normal" textLength="30.6" lengthAdjust="spacingAndGlyphs" stroke="#333" stroke-width="0.35">Сухо</text>
<text x="700.6" y="871.0" font-size="14" fill="#333" text-anchor="start" font-weight="normal" textLength="55.0" lengthAdjust="spacingAndGlyphs" stroke="#333" stroke-width="0.35">Клейкая</text>
<text x="700.6" y="899.0" font-size="14" fill="#333" text-anchor="start" font-weight="normal" textLength="105.6" lengthAdjust="spacingAndGlyphs" stroke="#333" stroke-width="0.35">Кремообразная</text>
<text x="700.6" y="926.7" font-size="14" fill="#333" text-anchor="start" font-weight="normal" textLength="76.9" lengthAdjust="spacingAndGlyphs" stroke="#333" stroke-width="0.35">Водянистая</text>
<text x="700.6" y="955.1" font-size="14" fill="#333" text-anchor="start" font-weight="normal" textLength="94.4" lengthAdjust="spacingAndGlyphs" stroke="#333" stroke-width="0.35">Яичный белок</text>
<path d="M682.90 830.40C684.11 833.94 688.40 835.33 688.40 838.10C688.40 841.14 685.94 843.60 682.90 843.60C679.86 843.60 677.40 841.14 677.40 838.10C677.40 835.33 681.69 833.94 682.90 830.40z" fill="#fff" stroke="#93c8f2" stroke-width="1.3" stroke-linejoin="round"/>
<path fill="#70bbf0" d="M677.6 858.7h10.8v1.1c-1.8.5-4.3 1.5-4.5 3.6v4.4c.3 2.6 2.9 4 4.7 4.600v1H677.4v-1c1.8-.6 4.400-2 4.700-4.600v-4.400c-.2-2.100-2.700-3.100-4.500-3.600z"/>
<path fill="#70bbf0" d="M676.800 887.4c4.200-1 9.600.500 11.400 4.600 1.500 3.400.100 7.200-3.200 8.700-3 1.300-6.600.200-7.800-2.700-1.100-2.700.300-5.600 3-6.300 1-.300 1.900-.200 2.800.100-1.300-2.300-3.600-3.700-6.200-4.400z"/>
<path d="M683.00 911.60C684.41 916.25 689.40 918.06 689.40 921.70C689.40 925.23 686.53 928.10 683.00 928.10C679.47 928.10 676.60 925.23 676.60 921.70C676.60 918.06 681.59 916.25 683.00 911.60z" fill="#70bbf0"/>
<path fill="#70bbf0" d="M683.4 939.6c3.200 0 5.700 3.600 5.700 8.400 0 4.800-2.600 8.300-6.100 8.300-3.500 0-6.300-3.400-6.300-7.900 0-4.700 3.200-8.800 6.700-8.800z"/>
<text x="85.2" y="954.6" font-size="14" fill="#333" text-anchor="start" font-weight="normal" textLength="82.4" lengthAdjust="spacingAndGlyphs" stroke="#333" stroke-width="0.35">Половой акт</text>
<text x="224.9" y="954.6" font-size="14" fill="#333" text-anchor="start" font-weight="normal" textLength="106.0" lengthAdjust="spacingAndGlyphs" stroke="#333" stroke-width="0.35">Прием лекарств</text>
<text x="392.2" y="954.6" font-size="14" fill="#333" text-anchor="start" font-weight="normal" textLength="125.1" lengthAdjust="spacingAndGlyphs" stroke="#333" stroke-width="0.35">Лунный календарь</text>
<path transform="translate(56.40 940.80) scale(0.930 0.949)" fill="#fc49a9" d="M10 17.5C8.6 16.600 0 12.200 0 5.600 0 2.400 2.400 0 5.400 0 7.400 0 9.100 1 10 2.600 10.900 1 12.600 0 14.600 0 17.600 0 20 2.400 20 5.600c0 6.600-8.600 11-10 11.900z"/>
<circle cx="207.3" cy="949.2" r="9.5" fill="#cacaca"/>
<path d="M203.6 954l7.4-9.6" stroke="#fff" stroke-width="2.5" stroke-linecap="round"/>
<path transform="translate(364.8 940.3) scale(0.980)" fill="#f7941d" d="M6.5 0.3C4.8 6 8.2 12.2 14 13.6c2 .5 4 .3 5.8-.4C18.6 17 15 19.6 10.8 19.6 5.2 19.6.6 15.2.6 9.8.6 5.6 3 1.9 6.5.3z"/>
</svg>
</body>
</html>
